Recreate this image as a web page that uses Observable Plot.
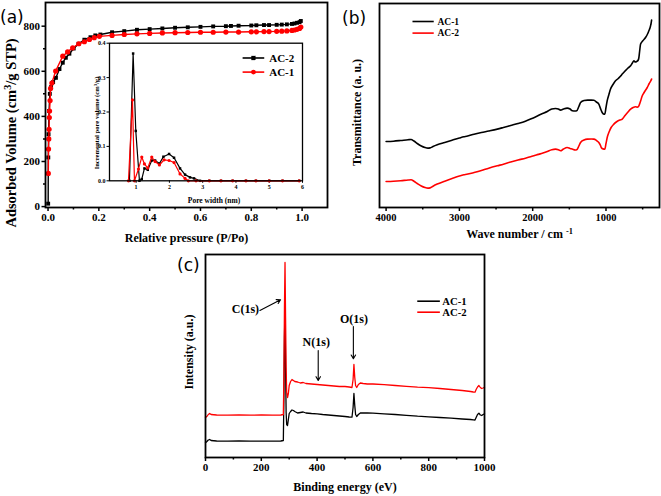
<!DOCTYPE html>
<html><head><meta charset="utf-8">
<script src="https://cdn.jsdelivr.net/npm/d3@7"></script>
<script src="https://cdn.jsdelivr.net/npm/@observablehq/plot@0.6"></script>
<style>
body{margin:0;background:#fff;}
#fig{position:relative;width:661px;height:496px;overflow:hidden;background:#fff;}
#fig > svg{position:absolute;}
.plabel{position:absolute;font-family:'DejaVu Sans',sans-serif;font-size:17px;line-height:17px;color:#000;}
</style></head><body><div id="fig"></div>
<script>
// ---------------- (a) N2 isotherm ----------------
const isoP_AC2 = [0.0005,0.001,0.002,0.004,0.007,0.012,0.02,0.031,0.045,0.058,0.07,0.084,0.101,0.12,0.143,0.167,0.186,0.206,0.252,0.3,0.35,0.4,0.45,0.5,0.55,0.6,0.65,0.7,0.72,0.75,0.8,0.82,0.85,0.87,0.9,0.92,0.94,0.96,0.97,0.98,0.99,0.995];
const isoV_AC2 = [13,218,321,424,500,530,552,571,610,638,660,678,701,722,740,751,759,763,773,778,784,787,790,793,795,797,799,800,801,802,803,804,805,805,806,807,808,810,812,815,818,823];
const isoP_AC1 = [0.001,0.002,0.003,0.004,0.005,0.006,0.008,0.01,0.015,0.03,0.058,0.077,0.097,0.121,0.143,0.163,0.182,0.202,0.252,0.3,0.35,0.4,0.45,0.5,0.55,0.6,0.65,0.7,0.75,0.8,0.82,0.85,0.87,0.9,0.92,0.94,0.96,0.97,0.98,0.99,0.995];
const isoV_AC1 = [147,255,300,343,395,424,470,524,548,601,667,686,704,722,731,741,749,755,759,763,766,768,770,771,772,773,773,774,774,775,775,776,776,777,778,779,781,783,786,790,796];
const isoXTicks = [0,0.2,0.4,0.6,0.8,1.0];
const isoXMinor = [0.1,0.3,0.5,0.7,0.9];
const isoYTicks = [0,200,400,600,800];
const isoYMinor = [100,300,500,700];

// inset: pore size distribution
const poreW_AC2 = [0.8,0.91,0.99,1.1,1.17,1.25,1.35,1.47,1.57,1.7,1.82,1.99,2.14,2.32,2.47,2.62,2.74,2.92,3.2,3.55,3.9,4.3,4.6,5.0,5.4,5.9];
const poreV_AC2 = [0,0.37,0.145,0,0.005,0.036,0.032,0.059,0.059,0.05,0.07,0.078,0.067,0.036,0.018,0.01,0.007,0,0,0,0,0,0,0,0,0];
const poreW_AC1 = [0.77,0.89,0.95,1.07,1.17,1.25,1.35,1.47,1.57,1.7,1.84,1.99,2.14,2.32,2.47,2.57,2.8,3.2,3.55,3.9,4.3,4.6,5.0,5.4,5.9];
const poreV_AC1 = [0,0.235,0,0.034,0.069,0.049,0.037,0.069,0.056,0.046,0.061,0.059,0.053,0.02,0.007,0,0,0,0,0,0,0,0,0,0];
const poreXTicks = [1,2,3,4,5,6];
const poreYTicks = [0,0.1,0.2,0.3,0.4];

// ---------------- (b) FTIR ----------------
const ftWn_AC1 = [4000,3900,3800,3700,3660,3620,3575,3520,3470,3430,3400,3360,3302,3200,3100,3000,2939,2900,2800,2700,2600,2483,2400,2300,2200,2100,2029,1950,1880,1801,1740,1688,1650,1620,1580,1530,1490,1460,1420,1400,1370,1347,1300,1250,1200,1165,1130,1098,1070,1052,1030,1016,1000,984,960,938,900,870,840,800,778,740,700,664,640,619,600,582,560,551,540,528,500,460,430,415,400,392,385,378];
const ftT_AC1 = [66,66.3,67,67.8,68,66.5,64,61.5,60,59.4,59.6,61,62.7,65,67.3,69.5,70.7,71.2,73.3,75,76.5,78.4,80,82,84,86.3,88.4,91,93.5,96,98.5,99,98.5,97.4,98.5,99.4,98.5,96.7,96.5,96.7,101,105,107,107.4,107.4,107.2,105.5,103.4,98,95,93.4,93.4,100,106.7,113,118.4,123.5,126.7,128.5,131.5,133.4,136.5,139.5,141.7,144.5,146.7,145.5,146,147.5,150,157,163.4,166.5,170,174,176.7,179.5,181.7,184,187.4];
const ftWn_AC2 = [4000,3900,3800,3700,3660,3620,3575,3520,3470,3430,3400,3360,3302,3200,3100,3000,2939,2900,2800,2700,2600,2483,2400,2300,2200,2100,2029,1950,1880,1801,1740,1688,1650,1620,1580,1530,1490,1460,1420,1400,1370,1347,1300,1255,1200,1165,1130,1098,1075,1065,1040,1016,1000,980,961,930,893,850,810,778,740,700,664,630,596,570,551,530,505,480,437,410,390,378];
const ftT_AC2 = [26,26.3,26.8,27.5,27.7,26.3,24,21.5,20,19.4,19.6,21.3,23.4,26.3,29,31.5,32.7,33.2,35,37,39.3,41.7,43.3,45.5,47.5,49.3,50.7,52.5,54,56,57.8,58.4,57.8,56.7,58.5,60,59,58.4,57.5,57.7,61.5,65,67.5,68.4,68.5,68.4,67,65,62,60,58.6,58.4,64,71,75,80,83.4,86,87.5,88.4,92,95.5,98.4,100,100.7,100.4,101.7,106,111.7,115,120,124,126.5,128.4];
const ftXTicks = [4000,3000,2000,1000];
const ftXMinor = [3500,2500,1500,500];

// ---------------- (c) XPS ----------------
const xpsE_AC2 = [0,5,10,15,20,40,80,120,160,200,240,270,279,281,283,285,287,289,291,294,297,300,305,310,315,320,330,340,350,360,380,400,420,440,460,480,500,515,525,529,532,535,538,542,548,555,565,580,600,640,680,720,760,800,840,880,920,950,960,966,970,975,980,985,990,995,1000];
const xpsI_AC2 = [40,41,43,44,43,42.5,42.3,42.5,42.3,42.5,42.3,42.5,43,80,150,195,140,90,65,60,64,72,76,78,77,76,75.5,74.5,75,74,73.5,73,72.5,72,71.5,71,71,70.5,70,78,93,80,72,70,73,74.5,74,73.5,73.5,72.8,72,71.2,70.3,69.8,69,68,67,66,65.5,65.3,68,70.5,72,70,69,69.5,70.3];
const xpsE_AC1 = [0,5,10,15,20,40,80,120,160,200,240,270,279,281,283,285,287,289,291,294,297,300,305,310,315,320,330,340,350,360,380,400,420,440,460,480,500,515,525,529,532,535,538,542,548,555,565,580,600,640,680,720,760,800,840,880,920,950,960,966,970,975,980,985,990,995,1000];
const xpsI_AC1 = [14.7,16,17.5,18,17,16.5,16.3,16.5,16.3,16.4,16.3,16.5,17,60,120,150,90,45,33,32,38,44,46,47.5,47,46,44.5,45,45.5,44.5,44,43.7,43,42.5,42,41.5,41,40.5,40.3,50,64,52,43,41,43,44.5,44.7,44.5,44.3,43.7,43,42.2,41.3,40.7,40,39.3,38.5,38,37.7,37.5,40,43,44.3,42.5,42,43,43.7];
const xpsXTicks = [0,200,400,600,800,1000];
const xpsXMinor = [100,300,500,700,900];
const xpsPeaks = ["C(1s)","N(1s)","O(1s)"];

const series = ["AC-1","AC-2"];
const BLACK = "#000", RED = "#ff0000";
const serif = "'Liberation Serif','Times New Roman',serif";

function baseStyle(fs){return {fontFamily: serif, fontWeight: "bold", fontSize: fs+"px", color: "#000", background: "transparent", overflow: "visible"};}
function applySup(svg){
  svg.querySelectorAll("text").forEach(t=>{
    const s=t.textContent;
    if(!s.includes("^{")) return;
    const parts=s.split(/\^\{(.*?)\}/);
    while(t.firstChild) t.removeChild(t.firstChild);
    parts.forEach((p,i)=>{
      if(!p) return;
      const ts=document.createElementNS("http://www.w3.org/2000/svg","tspan");
      ts.textContent=p;
      if(i%2===1){ts.setAttribute("baseline-shift","super");ts.setAttribute("font-size","0.7em");}
      t.appendChild(ts);
    });
  });
}
const fig = document.getElementById("fig");
function place(svg,left,top){svg.style.position="absolute";svg.style.left=left+"px";svg.style.top=top+"px";applySup(svg);fig.appendChild(svg);}
function letter(txt,left,top){const d=document.createElement("div");d.className="plabel";d.textContent=txt;d.style.left=left+"px";d.style.top=top+"px";fig.appendChild(d);}
const xLab = (txt, dy, fs, dx=0) => Plot.text([txt], {text: d=>d, frameAnchor: "bottom", dx, dy, fontSize: fs, textAnchor: "middle", lineAnchor: "middle"});
const yLab = (txt, dx, dy, fs) => Plot.text([txt], {text: d=>d, frameAnchor: "left", dx, dy, rotate: -90, fontSize: fs, textAnchor: "middle", lineAnchor: "middle"});

// ---- panel (a) main ----
const A = Plot.plot({
  width: 330, height: 250, marginLeft: 45, marginRight: 3, marginTop: 2, marginBottom: 43,
  style: baseStyle(11),
  x: {domain: [-0.01, 1.1]},
  y: {domain: [-4, 905]},
  marks: [
    Plot.axisX({ticks: isoXTicks, tickSize: 4, tickPadding: 2, tickFormat: d3.format(".1f"), label: null, strokeWidth: 1.5}),
    Plot.axisX({ticks: isoXMinor, tickSize: 2.5, tickFormat: () => "", label: null, strokeWidth: 1.5}),
    Plot.axisY({ticks: isoYTicks, tickSize: 3.5, tickPadding: 2, label: null, strokeWidth: 1.5}),
    Plot.axisY({ticks: isoYMinor, tickSize: 2, tickFormat: () => "", label: null, strokeWidth: 1.5}),
    Plot.line(isoP_AC2, {x: isoP_AC2, y: isoV_AC2, stroke: BLACK, strokeWidth: 1.4}),
    Plot.dot(isoP_AC2, {x: isoP_AC2, y: isoV_AC2, symbol: "square", fill: BLACK, r: 2.2}),
    Plot.line(isoP_AC1, {x: isoP_AC1, y: isoV_AC1, stroke: RED, strokeWidth: 1.4}),
    Plot.dot(isoP_AC1, {x: isoP_AC1, y: isoV_AC1, symbol: "circle", fill: RED, r: 2.6}),
    Plot.frame({strokeWidth: 1.8}),
    xLab("Relative pressure (P/Po)", 31, 12),
    yLab("Adsorbed Volume (cm^{3}/g STP)", -34, 28, 14.5)
  ]
});
place(A, 0, 0);

// ---- panel (a) inset ----
const legA = {x1: 4.2, x2: 4.85, xt: 5.0, y: [0.357, 0.316]};
const I = Plot.plot({
  width: 246, height: 180, marginLeft: 49, marginRight: 4, marginTop: 12.7, marginBottom: 29.7,
  style: baseStyle(6),
  x: {domain: [0.2, 6.0]},
  y: {domain: [0, 0.4]},
  marks: [
    Plot.axisX({ticks: poreXTicks, tickSize: 2.5, tickPadding: 1.5, tickFormat: d3.format("d"), label: null}),
    Plot.axisY({ticks: poreYTicks, tickSize: 2.5, tickPadding: 1.5, tickFormat: d3.format(".1f"), label: null}),
    Plot.line(poreW_AC2, {x: poreW_AC2, y: poreV_AC2, stroke: BLACK, strokeWidth: 1.2}),
    Plot.dot(poreW_AC2, {x: poreW_AC2, y: poreV_AC2, symbol: "square", fill: BLACK, r: 1.4}),
    Plot.line(poreW_AC1, {x: poreW_AC1, y: poreV_AC1, stroke: RED, strokeWidth: 1.2}),
    Plot.dot(poreW_AC1, {x: poreW_AC1, y: poreV_AC1, symbol: "circle", fill: RED, r: 1.6}),
    Plot.frame({strokeWidth: 1.3}),
    Plot.link([0,1], {x1: legA.x1, x2: legA.x2, y1: i=>legA.y[i], y2: i=>legA.y[i], stroke: i=>[BLACK,RED][i], strokeWidth: 1.6}),
    Plot.dot([0,1], {x: (legA.x1+legA.x2)/2, y: i=>legA.y[i], symbol: i=>["square","circle"][i], fill: i=>[BLACK,RED][i], r: 2.4}),
    Plot.text([0,1], {x: legA.xt, y: i=>legA.y[i], text: i=>[series[1],series[0]][i], textAnchor: "start", fontSize: 11}),
    xLab("Pore width (nm)", 20, 7.5, 8),
    yLab("Incremental pore volume (cm^{3}/g)", -13, 11, 6.6)
  ]
});
place(I, 60, 30);

// ---- panel (b) FTIR ----
const legB = {x1: 3640, x2: 3350, xt: 3300, y: [186, 174.4]};
const B = Plot.plot({
  width: 331, height: 250, marginLeft: 49, marginRight: 2, marginTop: 3, marginBottom: 43,
  style: baseStyle(10.5),
  x: {domain: [4090, 270]},
  y: {domain: [0, 204], axis: null},
  marks: [
    Plot.axisX({ticks: ftXTicks, tickSize: 4, tickPadding: 2, tickFormat: d3.format("d"), label: null, strokeWidth: 1.5}),
    Plot.axisX({ticks: ftXMinor, tickSize: 2.5, tickFormat: () => "", label: null, strokeWidth: 1.5}),
    Plot.line(ftWn_AC1, {x: ftWn_AC1, y: ftT_AC1, stroke: BLACK, strokeWidth: 1.6, curve: "monotone-x"}),
    Plot.line(ftWn_AC2, {x: ftWn_AC2, y: ftT_AC2, stroke: RED, strokeWidth: 1.6, curve: "monotone-x"}),
    Plot.frame({strokeWidth: 1.8}),
    Plot.link([0,1], {x1: legB.x1, x2: legB.x2, y1: i=>legB.y[i], y2: i=>legB.y[i], stroke: i=>[BLACK,RED][i], strokeWidth: 1.6}),
    Plot.text([0,1], {x: legB.xt, y: i=>legB.y[i], text: i=>series[i], textAnchor: "start", fontSize: 9.5}),
    xLab("Wave number / cm ^{-1}", 27, 12),
    yLab("Transmittance (a. u.)", -22, 7, 12)
  ]
});
place(B, 330, 0);

// ---- panel (c) XPS ----
const legC = {x1: 759, x2: 840, xt: 849, y: [156.3, 145.3]};
const annC = {x: [143, 397, 532], y: [148.7, 115.3, 138.7],
  ax1: [195, 404, 530], ay1: [147, 107, 131], ax2: [269, 404, 530], ay2: [157.7, 77, 98.7]};
const C = Plot.plot({
  width: 360, height: 256, marginLeft: 55, marginRight: 26, marginTop: 14, marginBottom: 39,
  style: baseStyle(11),
  x: {domain: [0, 1000]},
  y: {domain: [0, 203], axis: null},
  marks: [
    Plot.axisX({ticks: xpsXTicks, tickSize: 4, tickPadding: 2, tickFormat: d3.format("d"), label: null, strokeWidth: 1.5}),
    Plot.axisX({ticks: xpsXMinor, tickSize: 2.5, tickFormat: () => "", label: null, strokeWidth: 1.5}),
    Plot.line(xpsE_AC1, {x: xpsE_AC1, y: xpsI_AC1, stroke: BLACK, strokeWidth: 1.3}),
    Plot.line(xpsE_AC2, {x: xpsE_AC2, y: xpsI_AC2, stroke: RED, strokeWidth: 1.3}),
    Plot.frame({strokeWidth: 1.8}),
    Plot.arrow([0,1,2], {x1: i=>annC.ax1[i], y1: i=>annC.ay1[i], x2: i=>annC.ax2[i], y2: i=>annC.ay2[i], stroke: BLACK, strokeWidth: 1.1, headLength: 6}),
    Plot.text(xpsPeaks, {x: (d,i)=>annC.x[i], y: (d,i)=>annC.y[i], text: d=>d, fontSize: 12}),
    Plot.link([0,1], {x1: legC.x1, x2: legC.x2, y1: i=>legC.y[i], y2: i=>legC.y[i], stroke: i=>[BLACK,RED][i], strokeWidth: 1.6}),
    Plot.text([0,1], {x: legC.xt, y: i=>legC.y[i], text: i=>series[i], textAnchor: "start", fontSize: 10.7}),
    xLab("Binding energy (eV)", 30, 12),
    yLab("Intensity (a.u.)", -16, -4, 12)
  ]
});
place(C, 150, 240);

letter("(a)", 0, 9);
letter("(b)", 342, 10);
letter("(c)", 177, 257);
</script>
</body></html>
